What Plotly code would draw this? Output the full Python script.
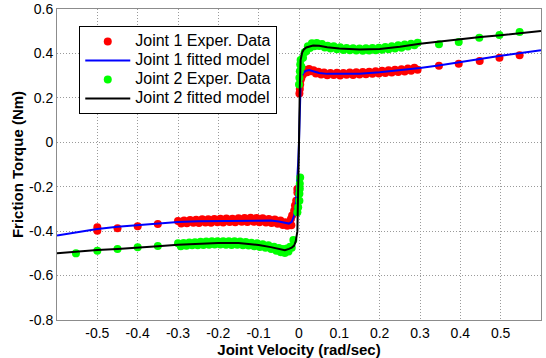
import plotly.graph_objects as go

# ---------------- data ----------------
# Joint 1 fitted model (blue)
j1_fit_v = [-0.6, -0.55, -0.5, -0.45, -0.4, -0.35, -0.3, -0.25, -0.2, -0.15, -0.1, -0.07, -0.05,
            -0.035, -0.025, -0.018, -0.012, -0.008, -0.004, -0.002, 0.0, 0.002, 0.004, 0.008,
            0.012, 0.018, 0.025, 0.035, 0.05, 0.07, 0.1, 0.15, 0.2, 0.25, 0.3, 0.35, 0.4, 0.45,
            0.5, 0.55, 0.6]
j1_fit_t = [-0.420, -0.404, -0.390, -0.380, -0.372, -0.365, -0.359, -0.356, -0.354, -0.352, -0.350,
            -0.352, -0.357, -0.363, -0.366, -0.358, -0.330, -0.280, -0.170, -0.090, 0.0, 0.200,
            0.260, 0.300, 0.315, 0.322, 0.325, 0.320, 0.312, 0.308, 0.307, 0.308, 0.315, 0.323,
            0.334, 0.347, 0.362, 0.376, 0.390, 0.402, 0.414]

# Joint 2 fitted model (black)
j2_fit_v = j1_fit_v
j2_fit_t = [-0.500, -0.492, -0.485, -0.480, -0.475, -0.468, -0.461, -0.456, -0.453, -0.453, -0.462,
            -0.472, -0.482, -0.486, -0.480, -0.474, -0.465, -0.445, -0.400, -0.250, 0.0, 0.250,
            0.370, 0.405, 0.418, 0.427, 0.432, 0.436, 0.435, 0.428, 0.422, 0.418, 0.420, 0.430,
            0.444, 0.455, 0.465, 0.474, 0.482, 0.492, 0.501]

# Joint 1 experimental data (red)
j1_exp_v = [-0.500, -0.500, -0.450, -0.400, -0.350,
            -0.300, -0.292, -0.285, -0.278, -0.270, -0.262, -0.255, -0.248, -0.240, -0.232,
            -0.225, -0.218, -0.210, -0.202, -0.195, -0.188, -0.180, -0.172, -0.165, -0.158,
            -0.150, -0.142, -0.135, -0.128, -0.120, -0.112, -0.105, -0.098, -0.090, -0.082,
            -0.075, -0.068, -0.060, -0.053, -0.046, -0.040, -0.034, -0.029, -0.024, -0.019,
            -0.020, -0.017, -0.012, -0.010, -0.007, -0.004, -0.004,
            0.001, 0.002, 0.003, 0.004, 0.006,
            0.010, 0.015, 0.020, 0.025, 0.030, 0.036, 0.042, 0.048, 0.055, 0.062, 0.070, 0.078,
            0.086, 0.094, 0.102, 0.110, 0.118, 0.126, 0.134, 0.142, 0.150, 0.158, 0.166, 0.174,
            0.182, 0.190, 0.198, 0.206, 0.214, 0.222, 0.230, 0.238, 0.246, 0.254, 0.262, 0.270,
            0.278, 0.286, 0.294,
            0.347, 0.396, 0.448, 0.497, 0.547]
j1_exp_t = [-0.383, -0.398, -0.387, -0.378, -0.368,
            -0.354, -0.366, -0.352, -0.364, -0.350, -0.362, -0.349, -0.363, -0.347, -0.361,
            -0.346, -0.362, -0.345, -0.360, -0.344, -0.361, -0.343, -0.359, -0.344, -0.360,
            -0.342, -0.358, -0.341, -0.359, -0.340, -0.358, -0.341, -0.360, -0.342, -0.361,
            -0.345, -0.363, -0.348, -0.367, -0.352, -0.372, -0.360, -0.376, -0.365, -0.374,
            -0.345, -0.330, -0.308, -0.285, -0.263, -0.226, -0.210,
            0.220, 0.240, 0.260, 0.280, 0.290,
            0.305, 0.325, 0.315, 0.330, 0.320, 0.324, 0.310, 0.318, 0.305, 0.314, 0.302, 0.312,
            0.303, 0.313, 0.301, 0.312, 0.304, 0.314, 0.303, 0.315, 0.305, 0.316, 0.306, 0.318,
            0.308, 0.320, 0.310, 0.322, 0.312, 0.324, 0.314, 0.327, 0.316, 0.329, 0.319, 0.332,
            0.322, 0.335, 0.327,
            0.344, 0.354, 0.366, 0.381, 0.392]

# Joint 2 experimental data (green)
j2_exp_v = [-0.553, -0.500, -0.450, -0.400, -0.350,
            -0.300, -0.293, -0.286, -0.279, -0.272, -0.265, -0.258, -0.251, -0.244, -0.237,
            -0.230, -0.223, -0.216, -0.209, -0.202, -0.195, -0.188, -0.181, -0.174, -0.167,
            -0.160, -0.153, -0.146, -0.139, -0.132, -0.125, -0.118, -0.111, -0.104, -0.097,
            -0.090, -0.083, -0.076, -0.069, -0.062, -0.056, -0.050, -0.045, -0.040, -0.035,
            -0.030, -0.026, -0.022, -0.018, -0.014,
            -0.004, -0.002, 0.001, 0.001, 0.002, 0.002, 0.003,
            0.000, 0.001, 0.002, 0.003, 0.004,
            0.006, 0.010, 0.014, 0.018, 0.022, 0.027, 0.032, 0.038, 0.044, 0.050, 0.057, 0.064,
            0.071, 0.078, 0.086, 0.094, 0.102, 0.110, 0.118, 0.126, 0.134, 0.142, 0.150, 0.158,
            0.166, 0.174, 0.182, 0.190, 0.198, 0.206, 0.214, 0.222, 0.230, 0.238, 0.246, 0.254,
            0.262, 0.270, 0.278, 0.286, 0.294,
            0.347, 0.396, 0.447, 0.497, 0.547]
j2_exp_t = [-0.500, -0.488, -0.480, -0.473, -0.467,
            -0.455, -0.468, -0.453, -0.466, -0.451, -0.464, -0.450, -0.463, -0.448, -0.462,
            -0.447, -0.461, -0.446, -0.460, -0.445, -0.460, -0.446, -0.461, -0.445, -0.462,
            -0.446, -0.461, -0.447, -0.463, -0.449, -0.465, -0.452, -0.468, -0.455, -0.471,
            -0.459, -0.475, -0.464, -0.480, -0.470, -0.488, -0.476, -0.495, -0.480, -0.498,
            -0.478, -0.492, -0.470, -0.475, -0.440,
            -0.315, -0.293, -0.263, -0.232, -0.209, -0.187, -0.158,
            0.260, 0.290, 0.320, 0.350, 0.370,
            0.340, 0.380, 0.405, 0.410, 0.432, 0.425, 0.446, 0.432, 0.447, 0.433, 0.442, 0.427,
            0.435, 0.422, 0.432, 0.419, 0.428, 0.415, 0.425, 0.414, 0.423, 0.413, 0.422, 0.412,
            0.423, 0.413, 0.424, 0.414, 0.426, 0.416, 0.429, 0.419, 0.432, 0.422, 0.437, 0.426,
            0.440, 0.431, 0.444, 0.437, 0.448,
            0.441, 0.452, 0.471, 0.483, 0.497]

x_ticks = [-0.5, -0.4, -0.3, -0.2, -0.1, 0, 0.1, 0.2, 0.3, 0.4, 0.5]
x_tick_text = ["-0.5", "-0.4", "-0.3", "-0.2", "-0.1", "0", "0.1", "0.2", "0.3", "0.4", "0.5"]
y_ticks = [-0.8, -0.6, -0.4, -0.2, 0, 0.2, 0.4, 0.6]
y_tick_text = ["-0.8", "-0.6", "-0.4", "-0.2", "0", "0.2", "0.4", "0.6"]
legend_names = ["Joint 1 Exper. Data", "Joint 1 fitted model",
                "Joint 2 Exper. Data", "Joint 2 fitted model"]

# ---------------- figure ----------------
FONT = "Liberation Sans, Arial, sans-serif"


def leg(name):
    # larger rendered text while keeping compact legend rows
    return '<span style="font-size:16px">' + name + '</span>'


fig = go.Figure()
fig.add_trace(go.Scatter(x=j1_exp_v, y=j1_exp_t, mode="markers", name=leg(legend_names[0]),
                         marker=dict(color="#ff0000", size=8, line=dict(width=0))))
fig.add_trace(go.Scatter(x=j1_fit_v, y=j1_fit_t, mode="lines", name=leg(legend_names[1]),
                         line=dict(color="#0000ff", width=2)))
fig.add_trace(go.Scatter(x=j2_exp_v, y=j2_exp_t, mode="markers", name=leg(legend_names[2]),
                         marker=dict(color="#00ff00", size=8, line=dict(width=0))))
fig.add_trace(go.Scatter(x=j2_fit_v, y=j2_fit_t, mode="lines", name=leg(legend_names[3]),
                         line=dict(color="#000000", width=2)))

GRID = dict(showgrid=True, gridcolor="#9a9a9a", griddash="1px,2px", gridwidth=1,
            zeroline=False, showline=True, linecolor="#8c8c8c", linewidth=1, mirror=True,
            ticks="", tickfont=dict(size=14), ticklabelstandoff=0, automargin=False)

fig.update_layout(
    width=546, height=358,
    margin=dict(l=57, r=5, t=9, b=38),
    paper_bgcolor="white", plot_bgcolor="white",
    font=dict(family=FONT, size=14, color="black"),
    showlegend=True,
    legend=dict(x=0.046, y=0.945, xanchor="left", yanchor="top",
                bgcolor="white", bordercolor="black", borderwidth=1,
                font=dict(family=FONT, size=12, color="black"),
                tracegroupgap=0, itemwidth=45),
    xaxis=dict(range=[-0.6, 0.6], tickvals=x_ticks, ticktext=x_tick_text,
               title=dict(text="<b>Joint Velocity (rad/sec)</b>", font=dict(size=15), standoff=1),
               **GRID),
    yaxis=dict(range=[-0.8, 0.6], tickvals=y_ticks, ticktext=y_tick_text,
               title=dict(text="<b>Friction Torque (Nm)</b>", font=dict(size=15), standoff=1),
               **GRID),
)

fig.write_html("out.html", config={"displayModeBar": False},
               post_script="document.body.style.margin='0px';")
